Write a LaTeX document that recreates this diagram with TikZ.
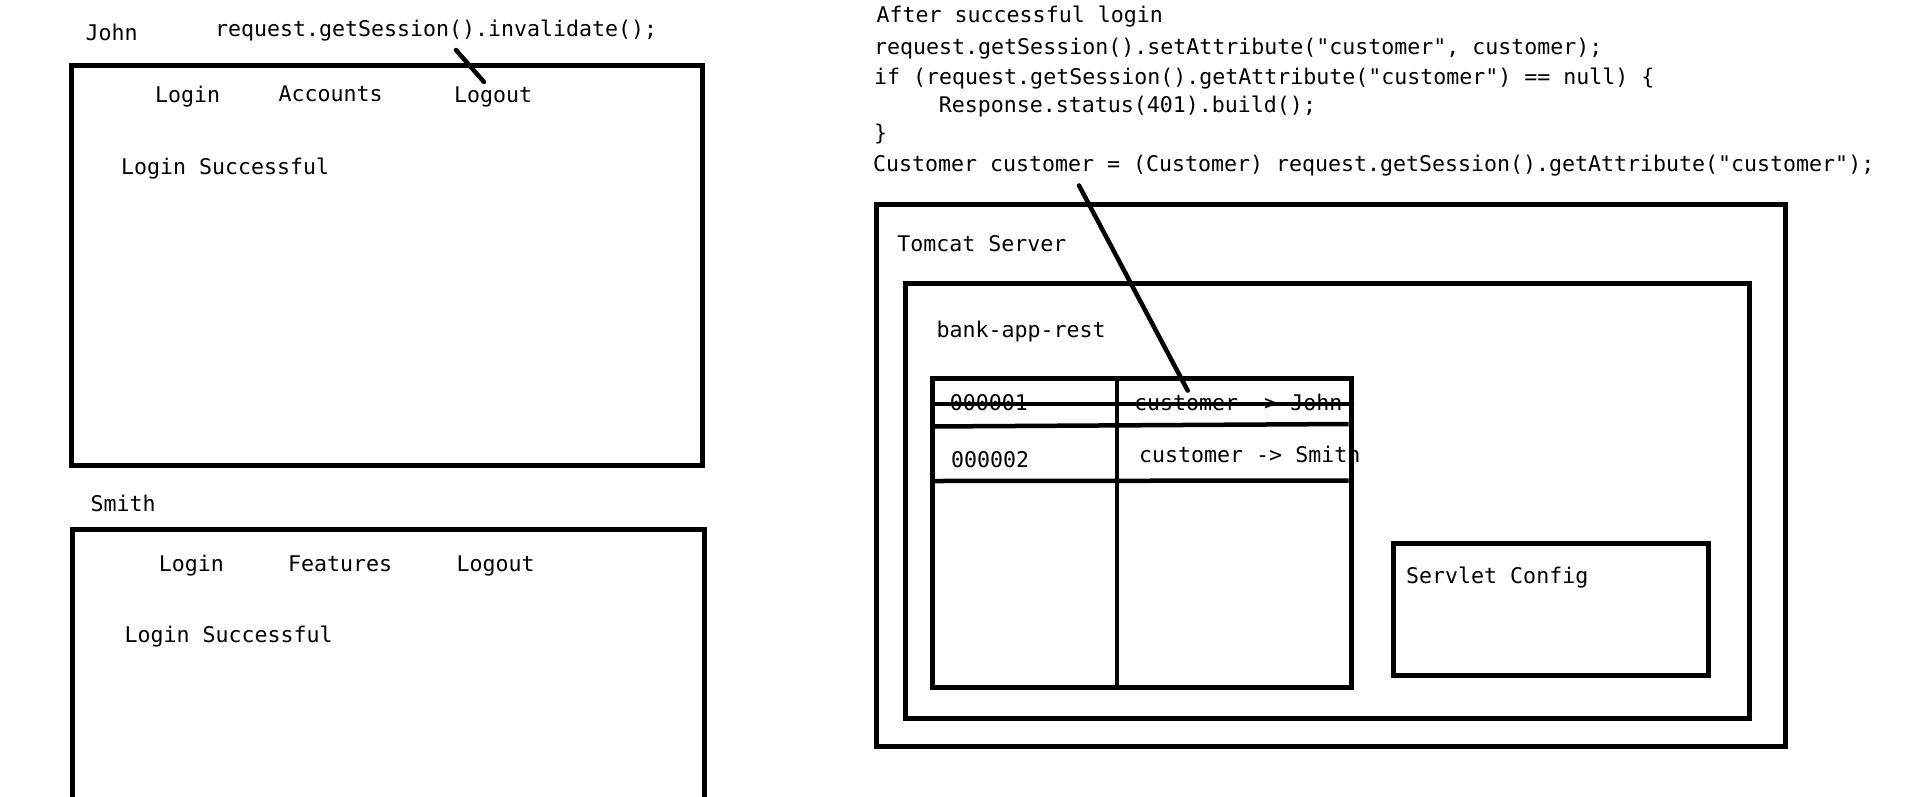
\documentclass[tikz,border=0pt]{standalone}
\usepackage{fontspec}
\newfontfamily\codefont{DejaVu Sans Mono}
\begin{document}
\begin{tikzpicture}[x=1pt,y=-1pt,
  txt/.style={font=\codefont\fontsize{21.6}{26}\selectfont, inner sep=0pt, anchor=west, text height=0.76em, text depth=0.24em, yshift=-5pt},
  box/.style={draw, line width=5pt, inner sep=0pt, anchor=north west},
  ln/.style={line width=4.5pt}]
\useasboundingbox[fill=white] (0,0) rectangle (1914,796);

% ---------- John ----------
\node[txt] (johnlbl) at (85.5,33) {John};
\node[txt] (inval) at (214.8,29.3) {request.getSession().invalidate();};
\node[box, minimum width=631pt, minimum height=400pt] (john) at (69.4,62.5) {};
\node[txt] (jlogin) at (155,95.2) {Login};
\node[txt] (jacc) at (278.3,94) {Accounts};
\node[txt] (jlogout) at (454,95.2) {Logout};
\node[txt] (jsucc) at (120.8,167.2) {Login Successful};
\coordinate (invalA) at (456,50);
\coordinate (invalB) at (484,82);
\draw[ln, line cap=round] (invalA) -- (invalB);

% ---------- Smith ----------
\node[txt] (smithlbl) at (90.3,504) {Smith};
\coordinate (sbl) at (72,800);
\coordinate (stl) at (72,529.8);
\coordinate (str) at (704.3,529.8);
\coordinate (sbr) at (704.3,800);
\draw[line width=5pt] (sbl) -- (stl) -- (str) -- (sbr);
\node[txt] (slogin) at (158.7,564) {Login};
\node[txt] (sfeat) at (288,564) {Features};
\node[txt] (slogout) at (456.5,564) {Logout};
\node[txt] (ssucc) at (124.5,634.8) {Login Successful};

% ---------- code ----------
\node[txt] (c0) at (876.5,14.6) {After successful login};
\node[txt] (c1) at (874,46.4) {request.getSession().setAttribute("customer", customer);};
\node[txt] (c2) at (874,76.9) {if (request.getSession().getAttribute("customer") == null) \{};
\node[txt] (c3) at (938.7,105) {Response.status(401).build();};
\node[txt] (c4) at (874,133) {\}};
\node[txt] (c5) at (872.8,163.6) {Customer customer = (Customer) request.getSession().getAttribute("customer");};

% ---------- server ----------
\node[box, minimum width=909pt, minimum height=542pt] (tomcat) at (873.5,201.5) {};
\node[txt] (tomcatlbl) at (897.2,244) {Tomcat Server};
\node[box, minimum width=843.5pt, minimum height=435.7pt] (bank) at (903.3,280.5) {};
\node[txt] (banklbl) at (936.3,329.6) {bank-app-rest};
\node[box, minimum width=315pt, minimum height=132pt] (servlet) at (1390.5,540.5) {};
\node[txt] (servletlbl) at (1406,576) {Servlet Config};

% table texts
\node[txt] (id1) at (949.7,402.8) {000001};
\node[txt] (v1) at (1134,402.8) {customer -> John};
\node[txt] (id2) at (951,460) {000002};
\node[txt] (v2) at (1139,455.3) {customer -> Smith};

% table
\node[box, minimum width=418.5pt, minimum height=309.5pt] (table) at (930,375.5) {};
\coordinate (divT) at (1117,375.5);
\coordinate (divB) at (1117,687);
\draw[ln] (divT) -- (divB);
\coordinate (r1L) at (930,426.5);
\coordinate (r1R) at (1348.5,424);
\draw[ln] (r1L) -- (r1R);
\coordinate (r2L) at (935,481);
\coordinate (r2R) at (1348.5,480.5);
\draw[ln] (r2L) -- (r2R);
\coordinate (strikeL) at (933,404);
\coordinate (strikeR) at (1352,404);
\draw[ln, line cap=round] (strikeL) -- (strikeR);

% connector from code to session
\coordinate (custA) at (1079,185.5);
\coordinate (custB) at (1187.7,390.6);
\draw[ln, line cap=round] (custA) -- (custB);
\end{tikzpicture}
\end{document}
